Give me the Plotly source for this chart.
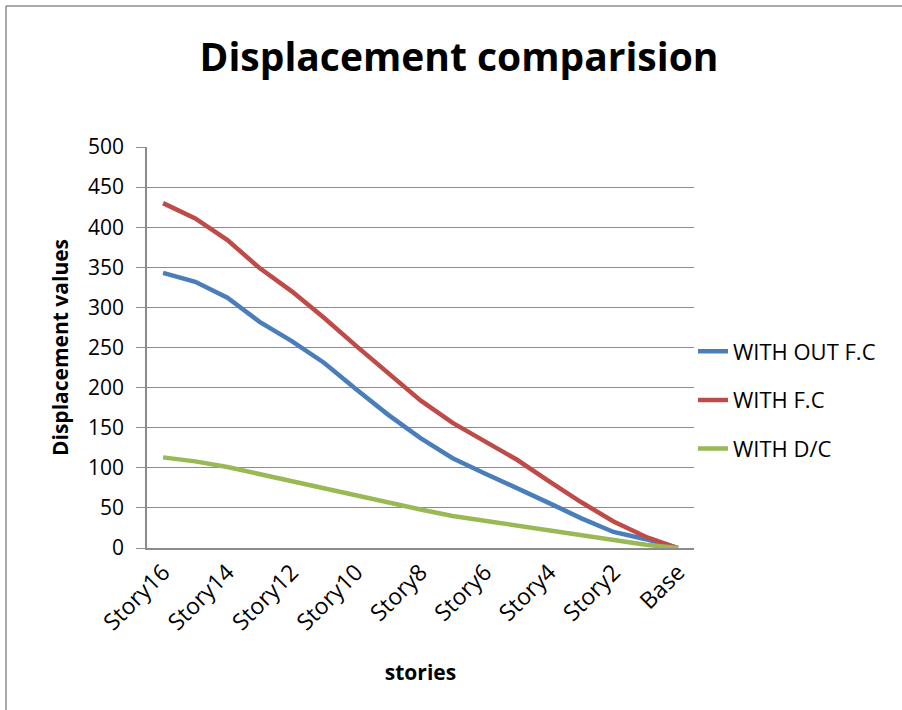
import plotly.graph_objects as go

# Storey labels from top storey down to the base
stories = ["Story16", "Story15", "Story14", "Story13", "Story12", "Story11",
           "Story10", "Story9", "Story8", "Story7", "Story6", "Story5",
           "Story4", "Story3", "Story2", "Story1", "Base"]

# Displacement values per storey
without_fc = [343, 332, 312, 282, 258, 231, 198, 166, 137, 112, 93, 75, 56, 37, 20, 11, 0]
with_fc = [430, 411, 384, 349, 320, 287, 252, 218, 184, 156, 133, 110, 83, 57, 33, 14, 0]
with_dc = [113, 108, 101, 92, 84, 75, 65, 56, 48, 40, 34, 27, 21, 15, 9, 4, 0]

tick_labels = stories[::2]
y_ticks = list(range(0, 501, 50))

series = [
    ("WITH OUT F.C", without_fc, "#4A7EBB"),
    ("WITH F.C", with_fc, "#BE4B48"),
    ("WITH D/C", with_dc, "#98B954"),
]

FONT = "Open Sans"

fig = go.Figure()
for i, (name, vals, color) in enumerate(series):
    fig.add_trace(go.Scatter(
        x=stories, y=vals, name=name, mode="lines",
        line=dict(color=color, width=4.5),
        legendgroup=f"g{i}",
    ))

fig.update_layout(
    width=902, height=710,
    paper_bgcolor="white", plot_bgcolor="white",
    margin=dict(l=147, r=208, t=147, b=162),
    font=dict(family=FONT, color="black"),
    title=dict(
        text="<b>Displacement comparision</b>",
        font=dict(family=FONT, size=39, color="black"),
        x=459 / 902, xanchor="center", y=1 - 57 / 710, yanchor="middle",
    ),
    showlegend=True,
    legend=dict(
        x=(693 - 147) / 547, xanchor="left",
        y=(548 - 400) / 401, yanchor="middle",
        font=dict(family=FONT, size=22, color="black"),
        traceorder="grouped", tracegroupgap=17,
        bgcolor="rgba(0,0,0,0)",
        itemwidth=30,
    ),
    xaxis=dict(
        type="category", categoryorder="array", categoryarray=stories,
        range=[-0.5, len(stories) - 0.5],
        tickmode="array", tickvals=tick_labels, ticktext=tick_labels,
        tickangle=-45, tickfont=dict(family=FONT, size=23),
        showgrid=False, showline=True, linecolor="#8C8C8C", linewidth=1.5,
        ticks="", zeroline=False,
        title=dict(text="<b>stories</b>", font=dict(family=FONT, size=21), standoff=29),
    ),
    yaxis=dict(
        range=[0, 500], tickmode="array", tickvals=y_ticks,
        tickfont=dict(family=FONT, size=21),
        showgrid=True, gridcolor="#8C8C8C", gridwidth=1.3,
        showline=True, linecolor="#8C8C8C", linewidth=1.5,
        ticks="outside", ticklen=9, tickcolor="#8C8C8C", tickwidth=1.3,
        ticklabelstandoff=8,
        zeroline=False,
        title=dict(text="<b>Displacement values</b>", font=dict(family=FONT, size=21), standoff=14),
    ),
)

# Chart frame: left and top edges
frame_left = (6 - 147) / 547
frame_top = (548 - 6) / 401
fig.add_shape(type="line", xref="paper", yref="paper",
              x0=frame_left, x1=frame_left, y0=(548 - 720) / 401, y1=frame_top,
              line=dict(color="#8C8C8C", width=1.5), layer="below")
fig.add_shape(type="line", xref="paper", yref="paper",
              x0=frame_left, x1=(910 - 147) / 547, y0=frame_top, y1=frame_top,
              line=dict(color="#8C8C8C", width=1.5), layer="below")

fig.write_html("out.html")
